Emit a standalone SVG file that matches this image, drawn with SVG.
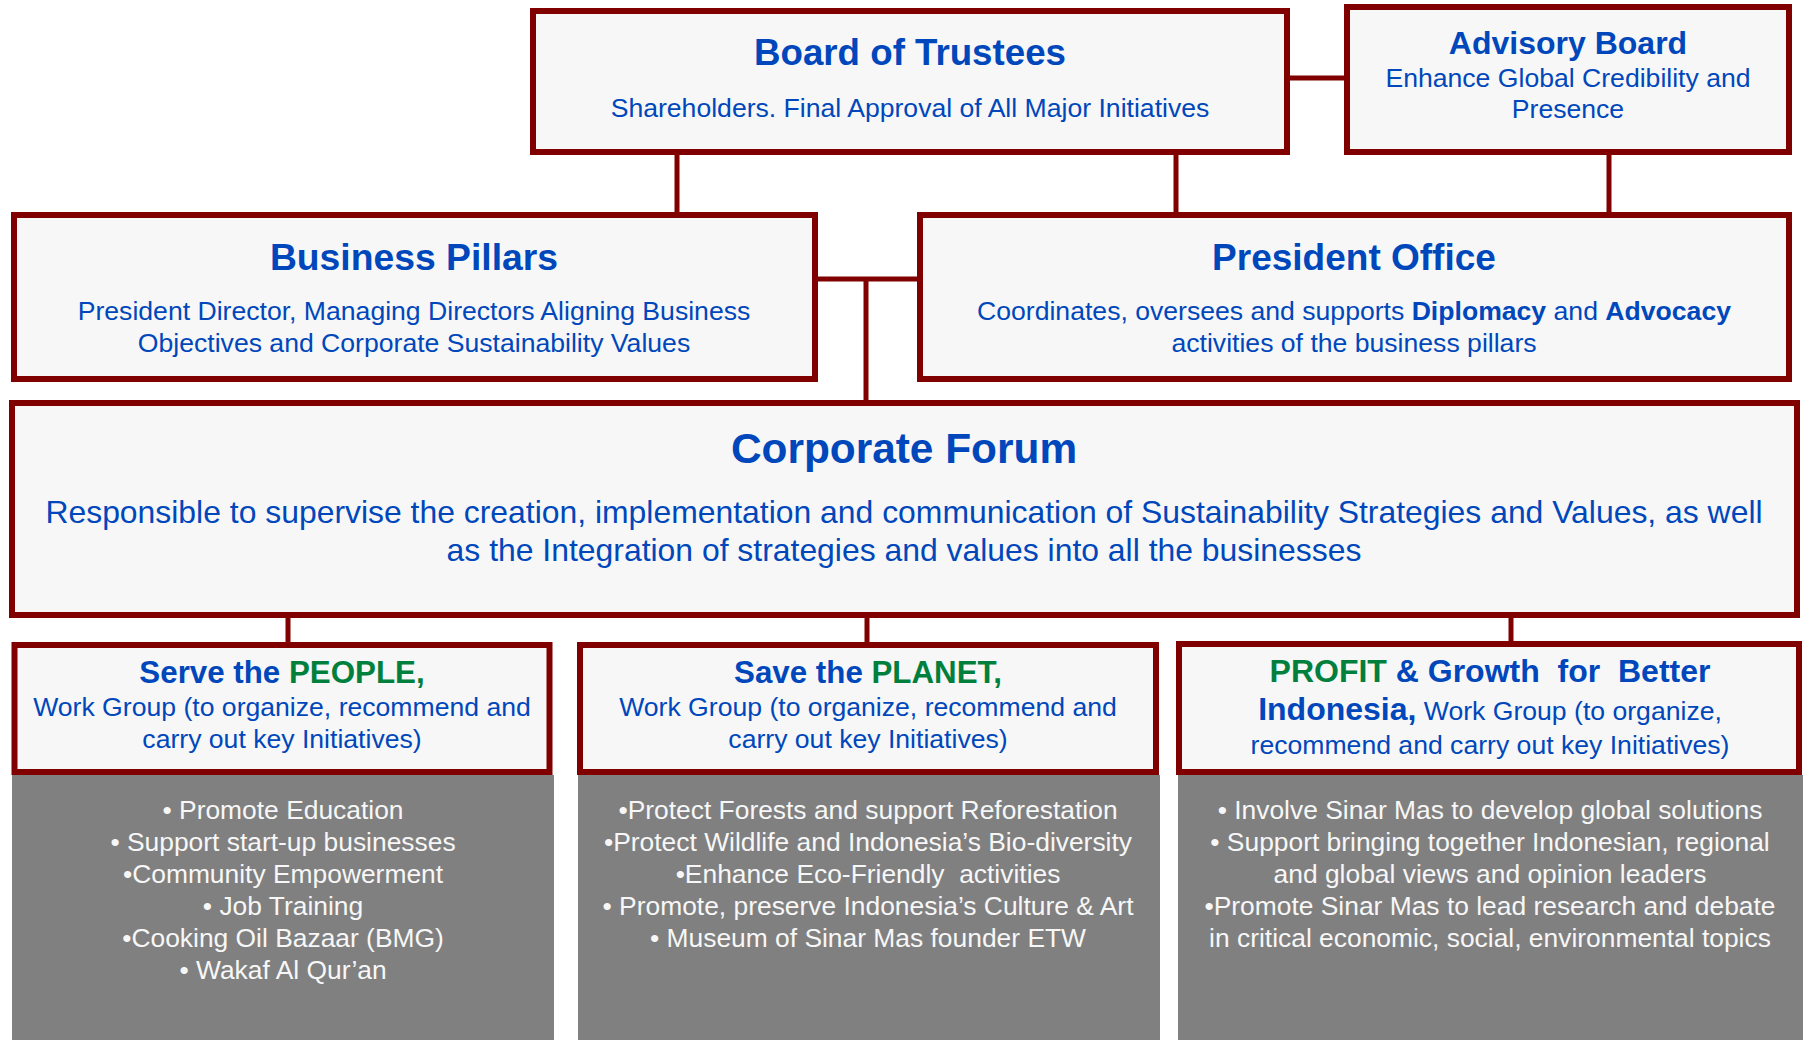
<svg xmlns="http://www.w3.org/2000/svg" width="1803" height="1040" viewBox="0 0 1803 1040">
<style>
.box{fill:#f7f7f7;stroke:#800000;stroke-width:6}
.gray{fill:#808080}
.con{stroke:#800000;stroke-width:5;fill:none}
text{font-family:"Liberation Sans",Arial,sans-serif;text-anchor:middle}
.t{fill:#0047BB;font-weight:bold}
.s{fill:#0047BB;font-size:26.6px}
.g{fill:#00803C}
.b{font-weight:bold}
.w{fill:#f7f7f7;font-size:26.4px}
</style>
<rect width="1803" height="1040" fill="#ffffff"/>
<g id="connectors">
<line class="con" x1="1290" y1="78" x2="1345" y2="78"/>
<line class="con" x1="677" y1="154" x2="677" y2="213"/>
<line class="con" x1="1176" y1="154" x2="1176" y2="213"/>
<line class="con" x1="1609" y1="154" x2="1609" y2="213"/>
<line class="con" x1="816" y1="279" x2="918" y2="279"/>
<line class="con" x1="866" y1="279" x2="866" y2="401"/>
<line class="con" x1="288" y1="617" x2="288" y2="643"/>
<line class="con" x1="867" y1="617" x2="867" y2="643"/>
<line class="con" x1="1511" y1="617" x2="1511" y2="642"/>
</g>
<g id="board-of-trustees">
<rect class="box" x="533" y="11" width="754" height="141"/>
<text class="t" x="910" y="65" font-size="36.7">Board of Trustees</text>
<text class="s" x="910" y="117">Shareholders. Final Approval of All Major Initiatives</text>
</g>
<g id="advisory-board">
<rect class="box" x="1347" y="7" width="442" height="145"/>
<text class="t" x="1568" y="54" font-size="32">Advisory Board</text>
<text class="s" x="1568" y="87">Enhance Global Credibility and</text>
<text class="s" x="1568" y="118">Presence</text>
</g>
<g id="business-pillars">
<rect class="box" x="14" y="215" width="801" height="164"/>
<text class="t" x="414" y="270" font-size="37.3">Business Pillars</text>
<text class="s" x="414" y="320">President Director, Managing Directors Aligning Business</text>
<text class="s" x="414" y="352">Objectives and Corporate Sustainability Values</text>
</g>
<g id="president-office">
<rect class="box" x="920" y="215" width="869" height="164"/>
<text class="t" x="1354" y="270" font-size="37">President Office</text>
<text class="s" x="1354" y="320">Coordinates, oversees and supports <tspan class="b">Diplomacy</tspan> and <tspan class="b">Advocacy</tspan></text>
<text class="s" x="1354" y="352">activities of the business pillars</text>
</g>
<g id="corporate-forum">
<rect class="box" x="12" y="403" width="1785" height="212"/>
<text class="t" x="904" y="463" font-size="42.4">Corporate Forum</text>
<text class="s" x="904" y="523" style="font-size:31.9px">Responsible to supervise the creation, implementation and communication of Sustainability Strategies and Values, as well</text>
<text class="s" x="904" y="561" style="font-size:31.9px">as the Integration of strategies and values into all the businesses</text>
</g>
<g id="serve-the-people">
<rect class="gray" x="12" y="775" width="542" height="265"/>
<rect class="box" x="14.5" y="645" width="535" height="127"/>
<text class="t" x="282" y="683" font-size="31.3">Serve the <tspan class="g">PEOPLE,</tspan></text>
<text class="s" x="282" y="716">Work Group (to organize, recommend and</text>
<text class="s" x="282" y="748">carry out key Initiatives)</text>
<text class="w" x="283" y="819">• Promote Education</text>
<text class="w" x="283" y="851">• Support start-up businesses</text>
<text class="w" x="283" y="883">•Community Empowerment</text>
<text class="w" x="283" y="915">• Job Training</text>
<text class="w" x="283" y="947">•Cooking Oil Bazaar (BMG)</text>
<text class="w" x="283" y="979">• Wakaf Al Qur’an</text>
</g>
<g id="save-the-planet">
<rect class="gray" x="578" y="775" width="582" height="265"/>
<rect class="box" x="580" y="645" width="576" height="127"/>
<text class="t" x="868" y="683" font-size="31.3">Save the <tspan class="g">PLANET,</tspan></text>
<text class="s" x="868" y="716">Work Group (to organize, recommend and</text>
<text class="s" x="868" y="748">carry out key Initiatives)</text>
<text class="w" x="868" y="819">•Protect Forests and support Reforestation</text>
<text class="w" x="868" y="851">•Protect Wildlife and Indonesia’s Bio-diversity</text>
<text class="w" x="868" y="883" xml:space="preserve">•Enhance Eco-Friendly  activities</text>
<text class="w" x="868" y="915">• Promote, preserve Indonesia’s Culture &amp; Art</text>
<text class="w" x="868" y="947">• Museum of Sinar Mas founder ETW</text>
</g>
<g id="profit-growth">
<rect class="gray" x="1178" y="775" width="625" height="265"/>
<rect class="box" x="1179" y="644" width="620" height="128"/>
<text class="t" x="1490" y="682" font-size="32" xml:space="preserve"><tspan class="g">PROFIT</tspan> &amp; Growth  for  Better</text>
<text class="s" x="1490" y="720"><tspan class="b" style="font-size:32px">Indonesia,</tspan> Work Group (to organize,</text>
<text class="s" x="1490" y="754">recommend and carry out key Initiatives)</text>
<text class="w" x="1490" y="819">• Involve Sinar Mas to develop global solutions</text>
<text class="w" x="1490" y="851">• Support bringing together Indonesian, regional</text>
<text class="w" x="1490" y="883">and global views and opinion leaders</text>
<text class="w" x="1490" y="915">•Promote Sinar Mas to lead research and debate</text>
<text class="w" x="1490" y="947">in critical economic, social, environmental topics</text>
</g>
</svg>
